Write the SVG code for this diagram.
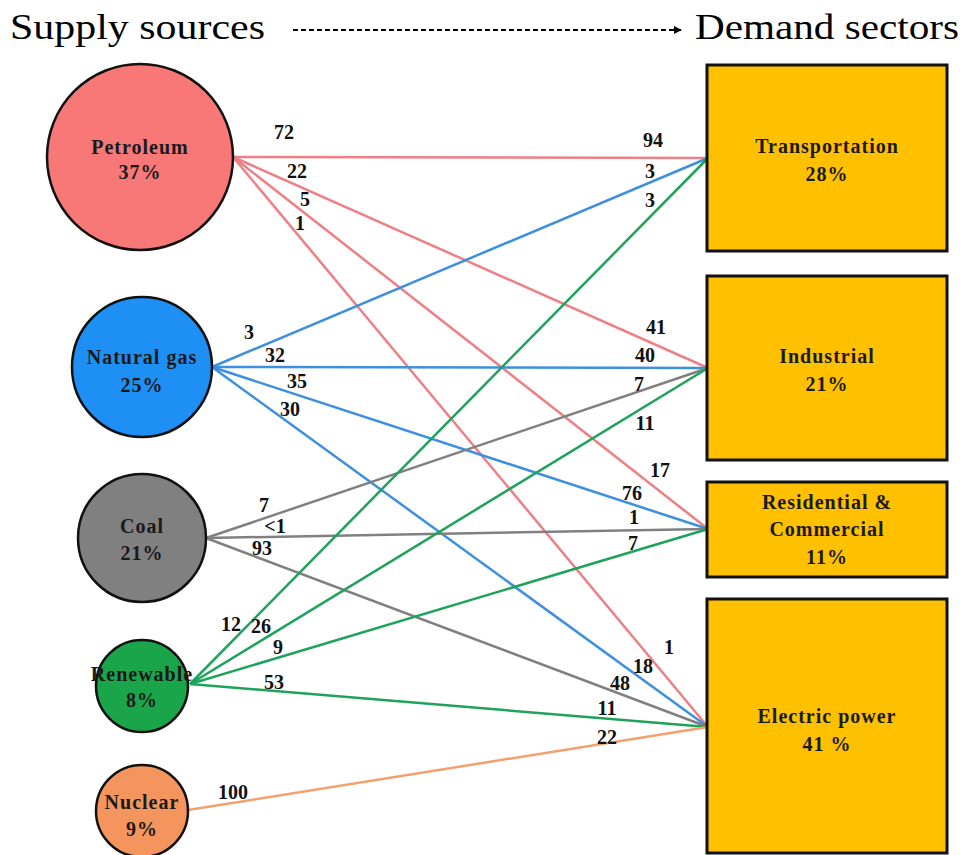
<svg xmlns="http://www.w3.org/2000/svg" width="966" height="855" viewBox="0 0 966 855">
<defs>
<style>
.hdr{font-family:"Liberation Serif","Times New Roman",serif;font-size:36px;fill:#000}
.nt{font-family:"Liberation Serif","Times New Roman",serif;font-size:20px;letter-spacing:1px;font-weight:bold;fill:#1a1a1a;text-anchor:middle}
.lb{font-family:"Liberation Serif","Times New Roman",serif;font-size:20px;font-weight:bold;fill:#111;text-anchor:middle}
.node{stroke:#111;stroke-width:2.5}
.box{fill:#FFC000;stroke:#111;stroke-width:3}
.c{fill:none;stroke-width:2.5}
.pe{stroke:#EE7F85}
.ng{stroke:#3D8FE0}
.co{stroke:#808080}
.re{stroke:#1FA25A}
.nu{stroke:#F4A06E}
</style>
<marker id="ah" viewBox="0 0 10 10" refX="9" refY="5" markerWidth="4" markerHeight="4" orient="auto"><path d="M0,0 L10,5 L0,10 z" fill="#000"/></marker>
</defs>
<rect width="966" height="855" fill="#fff"/>
<g id="header">
<text class="hdr" x="10" y="39" textLength="255" lengthAdjust="spacingAndGlyphs">Supply sources</text>
<text class="hdr" x="695" y="39" textLength="264" lengthAdjust="spacingAndGlyphs">Demand sectors</text>
<line x1="293" y1="30" x2="681" y2="30" stroke="#000" stroke-width="2" stroke-dasharray="5,3" marker-end="url(#ah)"/>
</g>
<g id="connectors">
<line class="c pe" x1="233" y1="157" x2="708" y2="158"/>
<line class="c pe" x1="233" y1="157" x2="708" y2="368"/>
<line class="c pe" x1="233" y1="157" x2="708" y2="529"/>
<line class="c pe" x1="233" y1="157" x2="708" y2="727"/>
<line class="c ng" x1="212" y1="367" x2="708" y2="158"/>
<line class="c ng" x1="212" y1="367" x2="708" y2="368"/>
<line class="c ng" x1="212" y1="367" x2="708" y2="529"/>
<line class="c ng" x1="212" y1="367" x2="708" y2="727"/>
<line class="c co" x1="206" y1="538" x2="708" y2="368"/>
<line class="c co" x1="206" y1="538" x2="708" y2="529"/>
<line class="c co" x1="206" y1="538" x2="708" y2="727"/>
<line class="c re" x1="190" y1="684" x2="708" y2="158"/>
<line class="c re" x1="190" y1="684" x2="708" y2="368"/>
<line class="c re" x1="190" y1="684" x2="708" y2="529"/>
<line class="c re" x1="190" y1="684" x2="708" y2="727"/>
<line class="c nu" x1="188" y1="810" x2="708" y2="727"/>
</g>
<g id="labels">
<text class="lb" x="284" y="139">72</text>
<text class="lb" x="297" y="178">22</text>
<text class="lb" x="305" y="206">5</text>
<text class="lb" x="300" y="230">1</text>
<text class="lb" x="653" y="147">94</text>
<text class="lb" x="650" y="178">3</text>
<text class="lb" x="650" y="207">3</text>
<text class="lb" x="249" y="339">3</text>
<text class="lb" x="275" y="362">32</text>
<text class="lb" x="297" y="388">35</text>
<text class="lb" x="290" y="416">30</text>
<text class="lb" x="656" y="334">41</text>
<text class="lb" x="645" y="362">40</text>
<text class="lb" x="639" y="391">7</text>
<text class="lb" x="645" y="430">11</text>
<text class="lb" x="660" y="477">17</text>
<text class="lb" x="632" y="500">76</text>
<text class="lb" x="634" y="524">1</text>
<text class="lb" x="633" y="550">7</text>
<text class="lb" x="264" y="512">7</text>
<text class="lb" x="275" y="533">&lt;1</text>
<text class="lb" x="262" y="555">93</text>
<text class="lb" x="231" y="631">12</text>
<text class="lb" x="261" y="633">26</text>
<text class="lb" x="278" y="654">9</text>
<text class="lb" x="274" y="689">53</text>
<text class="lb" x="233" y="799">100</text>
<text class="lb" x="669" y="654">1</text>
<text class="lb" x="643" y="673">18</text>
<text class="lb" x="620" y="690">48</text>
<text class="lb" x="607" y="715">11</text>
<text class="lb" x="607" y="744">22</text>
</g>
<g id="petroleum">
<circle class="node" cx="140" cy="157" r="93" fill="#F87878"/>
<text class="nt" x="140" y="154">Petroleum</text>
<text class="nt" x="140" y="179">37%</text>
</g>
<g id="natural-gas">
<circle class="node" cx="142" cy="367" r="70" fill="#1E90F5"/>
<text class="nt" x="142" y="364" letter-spacing="0">Natural gas</text>
<text class="nt" x="142" y="392">25%</text>
</g>
<g id="coal">
<circle class="node" cx="142" cy="538" r="64" fill="#808080"/>
<text class="nt" x="142" y="533">Coal</text>
<text class="nt" x="142" y="560">21%</text>
</g>
<g id="renewable">
<circle class="node" cx="142" cy="686" r="46" fill="#1AA54A"/>
<text class="nt" x="142" y="681">Renewable</text>
<text class="nt" x="142" y="707">8%</text>
</g>
<g id="nuclear">
<circle class="node" cx="142" cy="811" r="46" fill="#F5955E"/>
<text class="nt" x="142" y="809" letter-spacing="0">Nuclear</text>
<text class="nt" x="142" y="836">9%</text>
</g>
<g id="transportation">
<rect class="box" x="707" y="65" width="240" height="186"/>
<text class="nt" x="827" y="153">Transportation</text>
<text class="nt" x="827" y="181">28%</text>
</g>
<g id="industrial">
<rect class="box" x="707" y="276" width="240" height="184"/>
<text class="nt" x="827" y="363">Industrial</text>
<text class="nt" x="827" y="391">21%</text>
</g>
<g id="residential">
<rect class="box" x="707" y="482" width="240" height="95"/>
<text class="nt" x="827" y="509">Residential &amp;</text>
<text class="nt" x="827" y="536">Commercial</text>
<text class="nt" x="827" y="564">11%</text>
</g>
<g id="electric">
<rect class="box" x="707" y="599" width="240" height="254"/>
<text class="nt" x="827" y="723">Electric power</text>
<text class="nt" x="827" y="751">41 %</text>
</g>
</svg>
